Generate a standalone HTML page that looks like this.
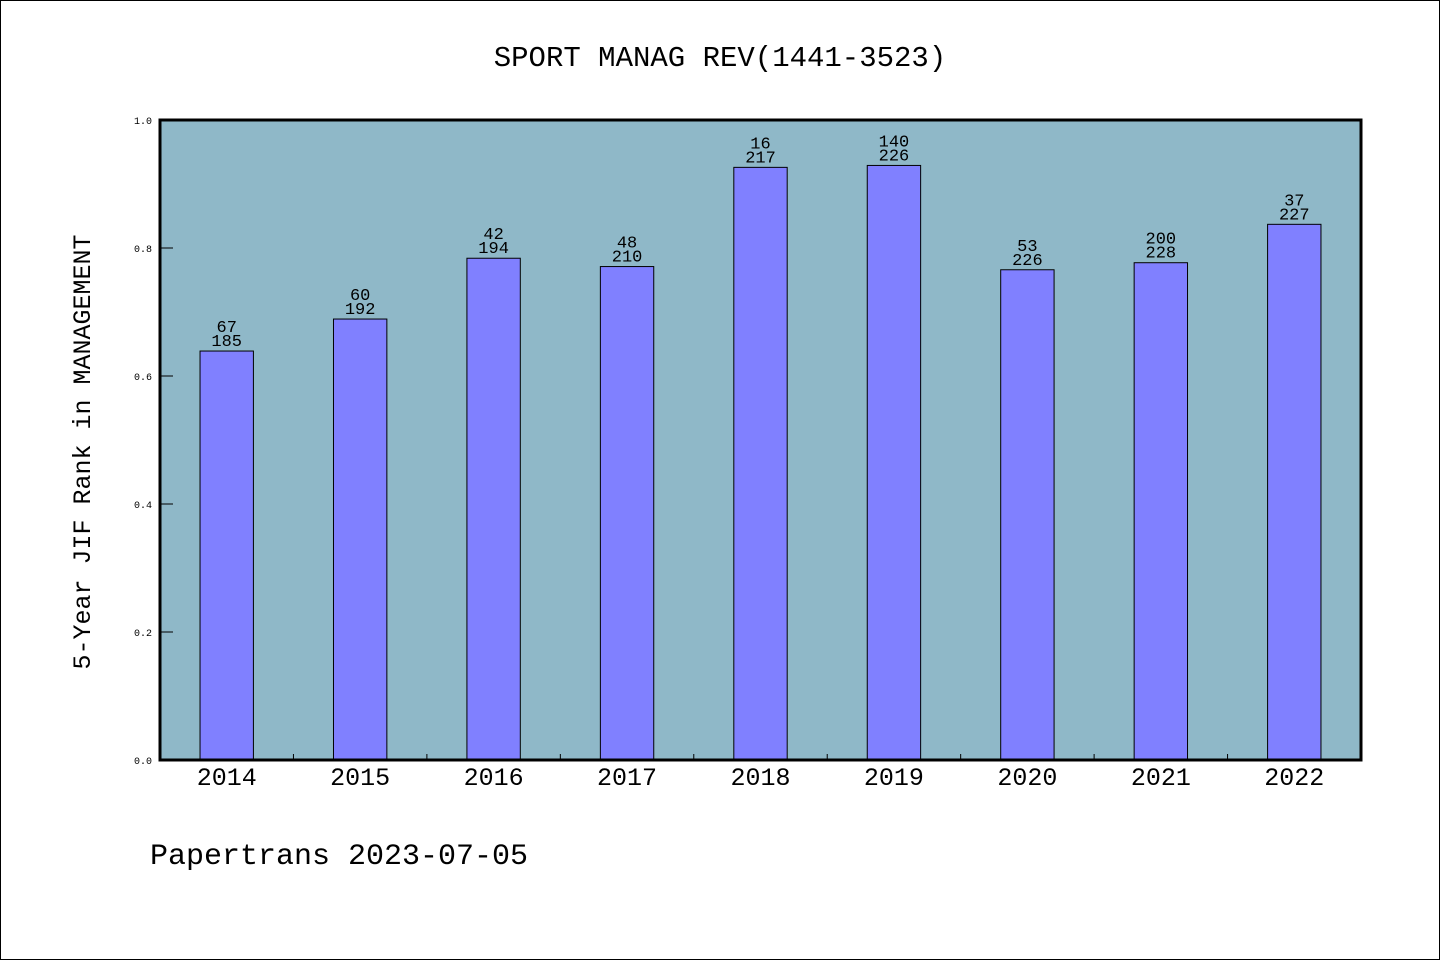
<!DOCTYPE html>
<html><head><meta charset="utf-8"><style>
html,body{margin:0;padding:0;background:#fff}
svg{display:block}
text{font-family:"WenQuanYi Zen Hei Mono","WenQuanYi Zen Hei","Liberation Mono",monospace;fill:#000}
</style></head><body>
<svg id="chart" width="1440" height="960">
<rect x="0.5" y="0.5" width="1439" height="959" fill="#fff" stroke="#000"/>
<text x="720" y="66" font-size="29" text-anchor="middle">SPORT MANAG REV(1441-3523)</text>
<rect x="160" y="120" width="1201" height="640" fill="#8fb8c8"/>
<g id="bars"></g>
<g id="yticks"></g>
<g id="xticks"></g>
<rect x="160" y="120" width="1201" height="640" fill="none" stroke="#000" stroke-width="3"/>
<text transform="translate(90,452) rotate(-90)" font-size="25" text-anchor="middle">5-Year JIF Rank in MANAGEMENT</text>
<text x="150" y="864" font-size="30">Papertrans 2023-07-05</text>
</svg>
<script>
const years=["2014","2015","2016","2017","2018","2019","2020","2021","2022"];
const values=[0.639,0.689,0.784,0.771,0.926,0.929,0.766,0.777,0.837];
const ranks=["67","60","42","48","16","140","53","200","37"];
const totals=["185","192","194","210","217","226","226","228","227"];
const yTickLabels=["0.0","0.2","0.4","0.6","0.8","1.0"];
const yTickValues=[0,0.2,0.4,0.6,0.8,1.0];
const NS="http://www.w3.org/2000/svg";
const L=160,R=1361,T=120,B=760;
const slot=(R-L)/years.length;
const xc=i=>L+slot*(i+0.5);
const y=v=>B-(B-T)*v;
function mk(tag,attrs,parent,txt){const e=document.createElementNS(NS,tag);for(const k in attrs)e.setAttribute(k,attrs[k]);if(txt!==undefined)e.textContent=txt;parent.appendChild(e);return e;}
const gb=document.getElementById('bars'),gy=document.getElementById('yticks'),gx=document.getElementById('xticks');
const bw=slot*0.4;
years.forEach((yr,i)=>{
  const r=mk('rect',{x:xc(i)-bw/2,y:y(values[i]),width:bw,height:B-y(values[i]),fill:'#8080ff',stroke:'#000','stroke-width':1},gb);
  
  
  const t1=mk('text',{x:xc(i),y:y(values[i])-19,'font-size':17,'text-anchor':'middle'},gb,ranks[i]);
  
  
  const t2=mk('text',{x:xc(i),y:y(values[i])-5,'font-size':17,'text-anchor':'middle'},gb,totals[i]);
  
  
  const xl=mk('text',{x:xc(i),y:785,'font-size':25,'text-anchor':'middle'},gx,yr);
  
  
  if(i>0){const tk=mk('line',{x1:L+slot*i,x2:L+slot*i,y1:B,y2:B-6,stroke:'#000'},gx);
  
  }
});
yTickValues.forEach((v,i)=>{
  const tk=mk('line',{x1:L,x2:L+13,y1:y(v),y2:y(v),stroke:'#000'},gy);
  
  
  const t=mk('text',{x:152,y:y(v)+4,'font-size':10,'text-anchor':'end'},gy,yTickLabels[i]);
  
  
});
</script>
</body></html>
